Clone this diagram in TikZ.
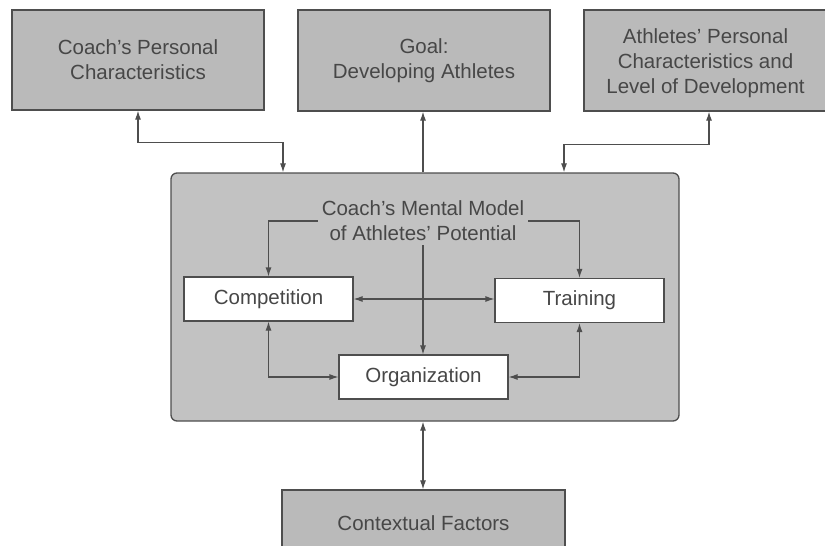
\documentclass[tikz,border=0pt]{standalone}
\usepackage{fontspec}
\setmainfont{Liberation Sans}
\usetikzlibrary{arrows.meta,calc}
\definecolor{boxfill}{HTML}{BABABA}
\definecolor{mainfill}{HTML}{C2C2C2}
\definecolor{linecol}{HTML}{4E4E4E}
\definecolor{textcol}{HTML}{474747}
\newcommand{\ap}{\char"0027\relax}
\begin{document}
\begin{tikzpicture}[x=1pt,y=-1pt,
  font=\fontsize{20.5}{25}\selectfont,
  outer/.style={draw=linecol, line width=1.3pt, fill=boxfill, text=textcol, align=center, inner sep=0pt},
  inner/.style={draw=linecol, line width=1.1pt, fill=white, text=textcol, align=center, inner sep=0pt, minimum width=169pt, minimum height=44pt},
  conn/.style={draw=linecol, line width=1.1pt, -{Latex[length=9pt,width=6pt]}},
  bconn/.style={draw=linecol, line width=1.1pt, {Latex[length=9pt,width=6pt]}-{Latex[length=9pt,width=6pt]}}
]
\useasboundingbox (0,0) rectangle (825,546);
\clip (0,0) rectangle (825,546);
% top boxes
\node[outer, minimum width=252pt, minimum height=100pt] (b1) at (138,60) {Coach\ap s Personal\\Characteristics};
\node[outer, minimum width=252pt, minimum height=101pt] (b2) at (424,60.5) {Goal:\\Developing Athletes};
\node[outer, minimum width=243pt, minimum height=101pt] (b3) at (705.5,60.5) {};
\node[text=textcol, align=center, inner sep=0pt] (b3t) at (705.5,63.5) {Athletes\ap{} Personal\\Characteristics and\\Level of Development};
% main box
\node[outer, fill=mainfill, rounded corners=6pt, minimum width=508pt, minimum height=248pt] (main) at (425,297) {};
\node[text=textcol, align=center, inner sep=4pt] (mm) at (423,221) {Coach\ap s Mental Model\\of Athletes\ap{} Potential};
% inner boxes
\node[inner] (comp) at (268.5,299) {Competition};
\node[inner] (train) at (579.5,300.5) {Training};
\node[inner] (org) at (423.5,377) {Organization};
% bottom box
\node[outer, minimum width=283pt, minimum height=66pt] (ctx) at (423.5,523) {Contextual Factors};
% connectors
\draw[bconn] (b1.south) -- ++(0,32) -| ([xshift=-142pt]main.north);
\draw[conn] (main.north -| mm.center) -- (b2.south -| mm.center);
\draw[bconn] ([xshift=3.5pt]b3.south) -- ++(0,33) -| ([xshift=139pt]main.north);
\draw[conn] (mm.west) -| (comp.north);
\draw[conn] (mm.east) -| (train.north);
\draw[conn] (mm.south) -- (org.north -| mm.south);
\draw[bconn] (comp.east) -- (train.west |- comp.east);
\draw[bconn] (comp.south) |- (org.west);
\draw[bconn] (train.south) |- (org.east);
\draw[bconn] (main.south -| mm.center) -- (ctx.north -| mm.center);
\end{tikzpicture}
\end{document}
